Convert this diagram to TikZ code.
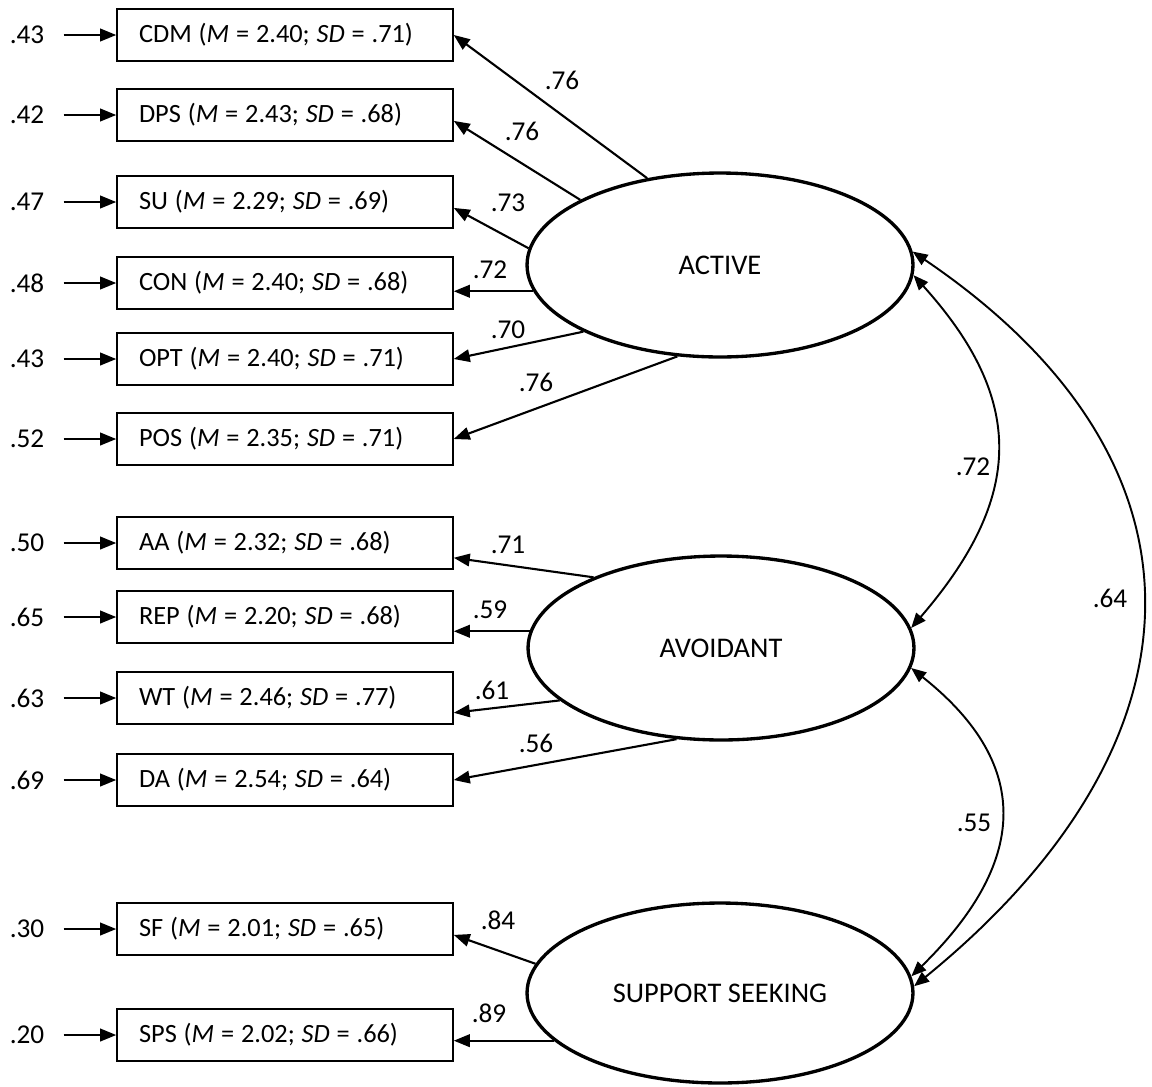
\documentclass[tikz,border=0pt]{standalone}
\usepackage{fontspec}
\setmainfont{Carlito}
\usetikzlibrary{arrows.meta,shapes.geometric}

\begin{document}
\begin{tikzpicture}[
x=0.02cm, y=-0.02cm,
every node/.style={font=\fontsize{15.5}{18}\selectfont},
item/.style={draw, line width=0.9pt, minimum height=1.04cm, text width=5.84cm, inner xsep=0.44cm, align=left,
  font=\fontsize{15}{18}\selectfont, execute at begin node={\spaceskip=0.26em\relax}},
factor/.style={draw, ellipse, line width=1.9pt, minimum width=7.72cm, minimum height=3.68cm, font=\fontsize{16.2}{19}\selectfont},
err/.style={inner xsep=0.38cm},
coef/.style={inner sep=0pt},
arrow/.style={-{Triangle[length=0.32cm,width=0.25cm]}, line width=1.2pt},
cov/.style={{Triangle[length=0.3cm,width=0.24cm]}-{Triangle[length=0.3cm,width=0.24cm]}, line width=1.1pt}
]
\useasboundingbox (0,0) rectangle (1152,1086);

\node[item] (cdm) at (285,35) {CDM (\textit{M} = 2.40; \textit{SD} = .71)};
\node[item] (dps) at (285,115) {DPS (\textit{M} = 2.43; \textit{SD} = .68)};
\node[item] (su) at (285,202) {SU (\textit{M} = 2.29; \textit{SD} = .69)};
\node[item] (con) at (285,283) {CON (\textit{M} = 2.40; \textit{SD} = .68)};
\node[item] (opt) at (285,359) {OPT (\textit{M} = 2.40; \textit{SD} = .71)};
\node[item] (pos) at (285,439) {POS (\textit{M} = 2.35; \textit{SD} = .71)};
\node[item] (aa) at (285,543) {AA (\textit{M} = 2.32; \textit{SD} = .68)};
\node[item] (rep) at (285,617) {REP (\textit{M} = 2.20; \textit{SD} = .68)};
\node[item] (wt) at (285,698) {WT (\textit{M} = 2.46; \textit{SD} = .77)};
\node[item] (da) at (285,780) {DA (\textit{M} = 2.54; \textit{SD} = .64)};
\node[item] (sf) at (285,929) {SF (\textit{M} = 2.01; \textit{SD} = .65)};
\node[item] (sps) at (285,1035) {SPS (\textit{M} = 2.02; \textit{SD} = .66)};

\node[err] (e-cdm) at (27,35) {.43};
\node[err] (e-dps) at (27,115) {.42};
\node[err] (e-su) at (27,202) {.47};
\node[err] (e-con) at (27,283) {.48};
\node[err] (e-opt) at (27,359) {.43};
\node[err] (e-pos) at (27,439) {.52};
\node[err] (e-aa) at (27,543) {.50};
\node[err] (e-rep) at (27,617) {.65};
\node[err] (e-wt) at (27,698) {.63};
\node[err] (e-da) at (27,780) {.69};
\node[err] (e-sf) at (27,929) {.30};
\node[err] (e-sps) at (27,1035) {.20};

\node[factor] (act) at (720,265) {ACTIVE};
\node[factor] (avo) at (721,648) {AVOIDANT};
\node[factor, minimum height=3.6cm] (ss) at (720,993) {SUPPORT SEEKING};

\draw[arrow] (e-cdm) -- (cdm);
\draw[arrow] (e-dps) -- (dps);
\draw[arrow] (e-su) -- (su);
\draw[arrow] (e-con) -- (con);
\draw[arrow] (e-opt) -- (opt);
\draw[arrow] (e-pos) -- (pos);
\draw[arrow] (e-aa) -- (aa);
\draw[arrow] (e-rep) -- (rep);
\draw[arrow] (e-wt) -- (wt);
\draw[arrow] (e-da) -- (da);
\draw[arrow] (e-sf) -- (sf);
\draw[arrow] (e-sps) -- (sps);

\draw[arrow] (act.130) -- (cdm.east);
\draw[arrow] (act.155) -- (dps.-2);
\draw[arrow] (act.175) -- (su.-2);
\draw[arrow] (act.188) -- (act.188 -| con.east);
\draw[arrow] (act.206) -- (opt.east);
\draw[arrow] (act.245) -- (pos.east);
\draw[arrow] (avo.151) -- (aa.-5);
\draw[arrow] (avo.175) -- (avo.175 -| rep.east);
\draw[arrow] (avo.198) -- (wt.-5);
\draw[arrow] (avo.244) -- (da.east);
\draw[arrow] (ss.171) -- (sf.-2);
\draw[arrow] (ss.196) -- (ss.196 -| sps.east);

\node[coef] (l-cdm) at (562,80) {.76};
\node[coef] (l-dps) at (522,131) {.76};
\node[coef] (l-su) at (508,203) {.73};
\node[coef] (l-con) at (490,270) {.72};
\node[coef] (l-opt) at (508,330) {.70};
\node[coef] (l-pos) at (536,382) {.76};
\node[coef] (l-aa) at (508,545) {.71};
\node[coef] (l-rep) at (490,610) {.59};
\node[coef] (l-wt) at (492,690) {.61};
\node[coef] (l-da) at (536,743) {.56};
\node[coef] (l-sf) at (498,920) {.84};
\node[coef] (l-sps) at (489,1013) {.89};

\draw[cov] (act.-3) .. controls (1026,400) and (1024,497) .. (avo.6);
\draw[cov] (avo.-6) .. controls (1036,767) and (1025,865) .. (ss.5);
\draw[cov] (act.4) .. controls (1229,466) and (1208,747) .. (ss.2);

\node[coef] (r-act-avo) at (973,467) {.72};
\node[coef] (r-avo-ss) at (974,823) {.55};
\node[coef] (r-act-ss) at (1110,598) {.64};
\end{tikzpicture}
\end{document}
